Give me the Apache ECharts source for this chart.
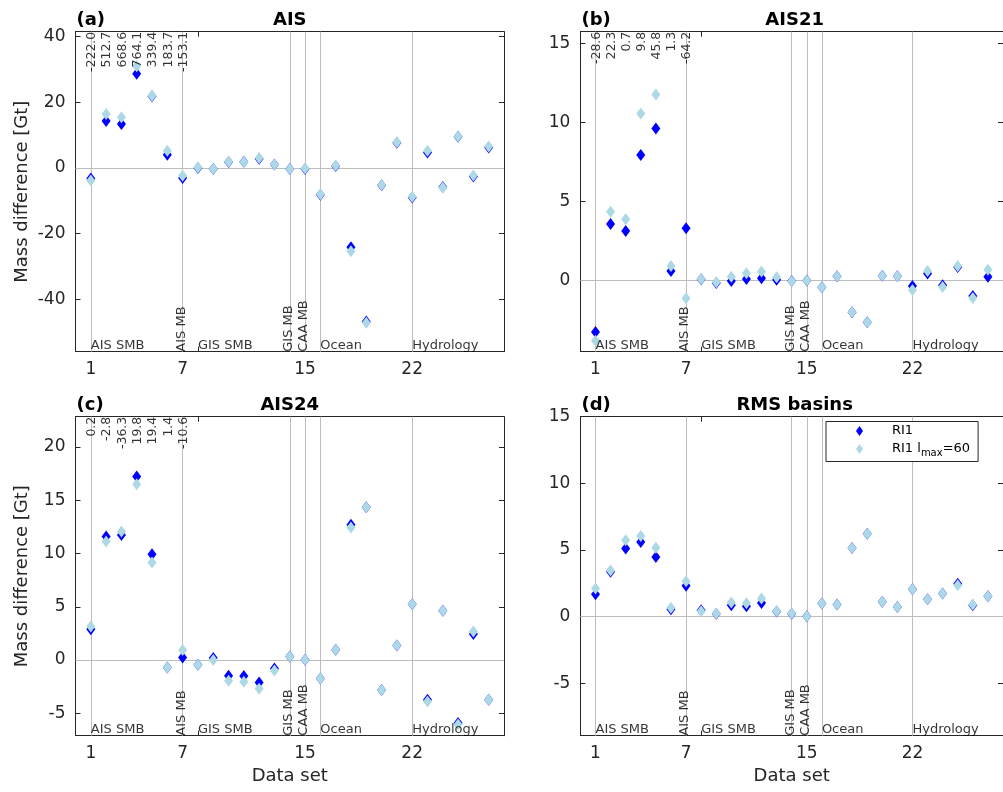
<!DOCTYPE html>
<html>
<head>
<meta charset="utf-8">
<script src="https://cdn.jsdelivr.net/npm/echarts@6/dist/echarts.min.js"></script>
<style>html,body{margin:0;padding:0;background:#fff;}#chart{width:1003px;height:792px;}</style>
</head>
<body>
<div id="chart"></div>
<script>
// ---------- data ----------
const dataSets = [1,2,3,4,5,6,7,8,9,10,11,12,13,14,15,16,17,18,19,20,21,22,23,24,25,26,27];
const xTickPositions = [1,7,8,15,22];
const xTickLabels = [1,7,15,22];

const aisRI1  = [-3.2,14.3,13.4,28.7,21.8,4.0,-3.1,0.0,-0.3,1.8,1.9,2.8,1.0,-0.3,-0.3,-8.2,0.6,-24.2,-46.8,-5.3,7.7,-9.0,4.7,-5.8,9.5,-2.6,6.2];
const aisLmax = [-3.8,16.4,15.4,31.0,22.0,5.2,-2.4,0.1,-0.3,1.9,1.9,3.0,1.0,-0.3,-0.2,-8.0,0.7,-25.4,-47.2,-5.2,7.8,-8.8,5.2,-6.0,9.6,-2.3,6.5];

const ais21RI1  = [-3.26,3.58,3.14,7.95,9.63,0.61,3.31,0.08,-0.15,-0.02,0.10,0.15,0.05,-0.02,0.0,-0.42,0.27,-2.0,-2.63,0.30,0.27,-0.34,0.45,-0.30,0.86,-0.98,0.25];
const ais21Lmax = [-3.81,4.36,3.88,10.58,11.78,0.93,-1.11,0.10,-0.10,0.25,0.47,0.57,0.21,-0.04,0.0,-0.42,0.27,-2.0,-2.63,0.30,0.27,-0.59,0.60,-0.40,0.93,-1.10,0.68];

const ais24RI1  = [2.9,11.6,11.75,17.23,9.94,-0.69,0.25,-0.44,0.19,-1.47,-1.50,-2.10,-0.78,0.34,0.03,-1.72,0.97,12.70,14.35,-2.82,1.37,5.25,-3.72,4.62,-5.90,2.44,-3.72];
const ais24Lmax = [3.15,11.13,12.07,16.5,9.16,-0.69,0.94,-0.44,0.0,-1.94,-2.04,-2.69,-0.97,0.34,0.03,-1.72,0.97,12.44,14.35,-2.82,1.37,5.25,-3.88,4.62,-6.05,2.69,-3.72];

const rmsRI1  = [1.67,3.35,5.10,5.60,4.47,0.55,2.30,0.47,0.20,0.85,0.77,1.02,0.38,0.20,0.02,0.97,0.90,5.15,6.22,1.10,0.72,2.05,1.30,1.72,2.45,0.85,1.52];
const rmsLmax = [2.10,3.45,5.72,6.05,5.17,0.65,2.65,0.40,0.22,1.05,1.00,1.35,0.40,0.22,0.02,0.97,0.90,5.15,6.22,1.10,0.72,2.05,1.30,1.72,2.35,0.90,1.52];

const aisTop   = ['-222.0','512.7','668.6','764.1','339.4','183.7','-153.1'];
const ais21Top = ['-28.6','22.3','0.7','9.8','45.8','1.3','-64.2'];
const ais24Top = ['0.2','-2.8','-36.3','19.8','19.4','1.4','-10.6'];

const separators = [1,7,14,15,16,22];
const groupNames    = ['AIS SMB','AIS MB','GIS SMB','GIS MB','CAA MB','Ocean','Hydrology'];
const groupStarts   = [1,7,8,14,15,16,22];
const groupVertical = [false,true,false,true,true,false,false];

const yTicksA = [-40,-20,0,20,40];
const yTicksB = [0,5,10,15];
const yTicksC = [-5,0,5,10,15,20];
const yTicksD = [-5,0,5,10,15];

const legendNames = ['RI1','RI1 lmax=60'];

// ---------- panels ----------
const panels = [
  {tag:'(a)', title:'AIS',        ri1:aisRI1,   lmax:aisLmax,   top:aisTop,   yMin:-56,   yMax:41.5,  yTicks:yTicksA, yName:true,  xName:false},
  {tag:'(b)', title:'AIS21',      ri1:ais21RI1, lmax:ais21Lmax, top:ais21Top, yMin:-4.5,  yMax:15.75, yTicks:yTicksB, yName:false, xName:false},
  {tag:'(c)', title:'AIS24',      ri1:ais24RI1, lmax:ais24Lmax, top:ais24Top, yMin:-7.1,  yMax:22.85, yTicks:yTicksC, yName:true,  xName:true},
  {tag:'(d)', title:'RMS basins', ri1:rmsRI1,   lmax:rmsLmax,   top:null,     yMin:-8.95, yMax:15,    yTicks:yTicksD, yName:false, xName:true}
];
const layout = [
  {left:75.5,  top:31.7,  width:428.5, height:320},
  {left:580.4, top:31.7,  width:428.5, height:320},
  {left:75.5,  top:416.7, width:428.5, height:319},
  {left:580.4, top:416.7, width:428.5, height:319}
];

const FONT = 'DejaVu Sans';
const AX = '#262626';
const GRIDLINE = '#bdbdbd';

const grid = [], xAxis = [], yAxis = [], series = [], title = [];

panels.forEach((p, i) => {
  const L = layout[i];
  grid.push({left:L.left, top:L.top, width:L.width, height:L.height, containLabel:false});
  const tickStyle = {color:AX, width:1};
  xAxis.push({
    gridIndex:i, type:'value', min:0, max:28, position:'bottom',
    axisLine:{show:true, onZero:false, lineStyle:{color:AX, width:1}},
    axisTick:{show:true, inside:true, length:5, customValues:xTickPositions, lineStyle:tickStyle},
    axisLabel:{show:true, customValues:xTickLabels, fontSize:17, color:AX, margin:9, fontFamily:FONT},
    splitLine:{show:false},
    name: p.xName ? 'Data set' : '', nameLocation:'middle', nameGap:32,
    nameTextStyle:{fontSize:18, color:AX, fontFamily:FONT}
  });
  xAxis.push({
    gridIndex:i, type:'value', min:0, max:28, position:'top',
    axisLine:{show:true, onZero:false, lineStyle:{color:AX, width:1}},
    axisTick:{show:true, inside:true, length:5, customValues:xTickPositions, lineStyle:tickStyle},
    axisLabel:{show:false}, splitLine:{show:false}
  });
  yAxis.push({
    gridIndex:i, type:'value', min:p.yMin, max:p.yMax, position:'left',
    axisLine:{show:true, onZero:false, lineStyle:{color:AX, width:1}},
    axisTick:{show:true, inside:true, length:5, customValues:p.yTicks, lineStyle:tickStyle},
    axisLabel:{show:true, customValues:p.yTicks, fontSize:17, color:AX, margin:10, fontFamily:FONT},
    splitLine:{show:false},
    name: p.yName ? 'Mass difference [Gt]' : '', nameLocation:'middle', nameGap:44, nameRotate:90,
    nameTextStyle:{fontSize:18, color:AX, fontFamily:FONT}
  });
  yAxis.push({
    gridIndex:i, type:'value', min:p.yMin, max:p.yMax, position:'right',
    axisLine:{show:true, onZero:false, lineStyle:{color:AX, width:1}},
    axisTick:{show:true, inside:true, length:5, customValues:p.yTicks, lineStyle:tickStyle},
    axisLabel:{show:false}, splitLine:{show:false}
  });
  const xi = i*2, yi = i*2;

  series.push({
    type:'scatter', name:'ref'+i, xAxisIndex:xi, yAxisIndex:yi, data:[], silent:true, z:1,
    markLine:{
      silent:true, symbol:'none', z:1, animation:false,
      label:{show:false},
      lineStyle:{color:GRIDLINE, type:'solid', width:1},
      emphasis:{disabled:true},
      data: separators.map(s => ({xAxis:s})).concat([{yAxis:0}])
    }
  });
  series.push({
    type:'scatter', name:legendNames[0], xAxisIndex:xi, yAxisIndex:yi, z:3,
    symbol:'diamond', symbolSize:[9,12],
    itemStyle:{color:'#0000ff', opacity:1},
    data: dataSets.map((d,k) => [d, p.ri1[k]])
  });
  series.push({
    type:'scatter', name:legendNames[1], xAxisIndex:xi, yAxisIndex:yi, z:4,
    symbol:'diamond', symbolSize:[9,12],
    itemStyle:{color:'#add8e6', opacity:1},
    data: dataSets.map((d,k) => [d, p.lmax[k]])
  });
  series.push({
    type:'scatter', name:'groups'+i, xAxisIndex:xi, yAxisIndex:yi, z:6, silent:true,
    symbolSize:1, itemStyle:{color:'rgba(0,0,0,0)'},
    data: groupNames.map((g,k) => ({
      value:[groupStarts[k], p.yMin], name:g,
      label: groupVertical[k]
        ? {show:true, position:'inside', rotate:90, align:'left', verticalAlign:'middle', offset:[0,-1], formatter:g, fontSize:13, color:'#000', fontFamily:FONT}
        : {show:true, position:'inside', align:'left', verticalAlign:'bottom', offset:[0,0], formatter:g, fontSize:13, color:'#000', fontFamily:FONT}
    }))
  });
  if (p.top) {
    series.push({
      type:'scatter', name:'top'+i, xAxisIndex:xi, yAxisIndex:yi, z:7, silent:true,
      symbolSize:1, itemStyle:{color:'rgba(0,0,0,0)'},
      data: p.top.map((t,k) => ({
        value:[dataSets[k], p.yMax], name:t,
        label:{show:true, position:'inside', rotate:90, align:'right', verticalAlign:'middle', offset:[0,1], formatter:t, fontSize:12.5, color:'#000', fontFamily:FONT}
      }))
    });
  }
  const cx = L.left + L.width/2;
  const ty = L.top - 20;
  title.push({text:p.title, left:cx, top:ty, textAlign:'center', padding:0,
    textStyle:{fontSize:18, fontWeight:'bold', color:'#000', fontFamily:FONT}});
  title.push({text:p.tag, left:L.left + 1, top:ty, padding:0,
    textStyle:{fontSize:18, fontWeight:'bold', color:'#000', fontFamily:FONT}});
});

const chart = echarts.init(document.getElementById('chart'), null, {renderer:'canvas'});
chart.setOption({
  animation:false,
  backgroundColor:'#ffffff',
  title, grid, xAxis, yAxis, series,
  legend:{
    data:legendNames, selectedMode:false, orient:'vertical',
    left:826, top:421.5,
    padding:[3,8,3,30], itemGap:3, itemWidth:7, itemHeight:10,
    icon:'diamond',
    backgroundColor:'#ffffff', borderColor:AX, borderWidth:1, borderRadius:0,
    formatter: n => n === 'RI1' ? '{t0|RI1}' : '{t0|RI1 l}{s|max}{t|=60}',
    textStyle:{
      fontFamily:FONT, color:'#000', fontSize:13,
      rich:{
        t0:{fontSize:13, lineHeight:19, padding:[0,0,0,24], fontFamily:FONT, color:'#000'},
        t:{fontSize:13, lineHeight:19, fontFamily:FONT, color:'#000'},
        s:{fontSize:10, lineHeight:19, verticalAlign:'bottom', padding:[8,0,0,0], fontFamily:FONT, color:'#000'}
      }
    },
    z:10
  }
});
</script>
</body>
</html>
